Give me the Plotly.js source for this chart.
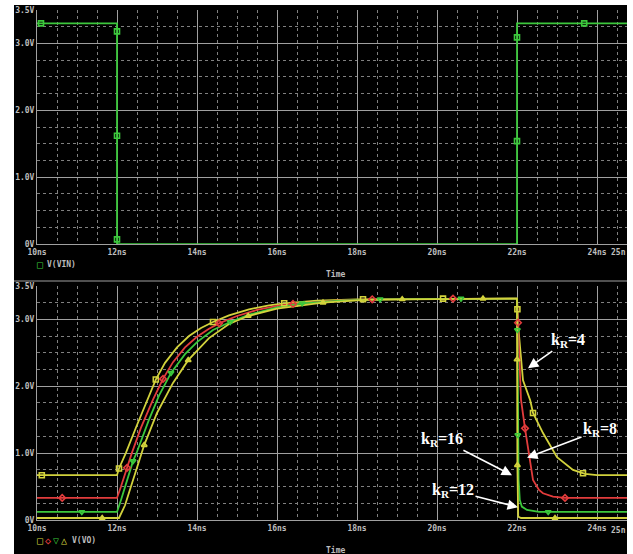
<!DOCTYPE html>
<html>
<head>
<meta charset="utf-8">
<script src="https://cdn.plot.ly/plotly-3.0.1.min.js"></script>
<style>
  html, body { margin: 0; padding: 0; background: #ffffff; }
  #chart { width: 633px; height: 554px; }
</style>
</head>
<body>
<div id="chart"></div>
<script>
// ---- Input pulse V(VIN) ----
const timeVin = [10, 12, 12, 22, 22, 24.75];
const valVin  = [3.3, 3.3, 0, 0, 3.3, 3.3];
const markTimeVin = [10.1, 12, 12, 12, 22, 22, 23.68];
const markValVin  = [3.3, 3.18, 1.62, 0.07, 3.09, 1.54, 3.3];

// ---- Output V(VO) for four kR values ----
const timeK4 = [10, 12.0, 12.05, 12.22, 12.5, 12.75, 12.97, 13.2, 13.5, 13.8, 14.1, 14.4, 14.8, 15.3, 15.8, 16.18, 17.0, 18.0, 20.0, 22.0,
                22.03, 22.1, 22.15, 22.33, 22.4, 22.65, 23.0, 23.4, 23.7, 24.0, 24.75];
const valK4  = [0.67, 0.67, 0.77, 1.0, 1.42, 1.78, 2.1, 2.35, 2.58, 2.75, 2.87, 2.96, 3.06, 3.15, 3.21, 3.24, 3.28, 3.3, 3.31, 3.31,
                2.9, 2.35, 2.09, 1.79, 1.6, 1.3, 0.94, 0.75, 0.69, 0.67, 0.67];
const markTimeK4 = [10.12, 12.05, 12.97, 14.4, 16.18, 18.15, 20.15, 22.01, 22.4, 23.65];
const markValK4  = [0.67, 0.77, 2.1, 2.96, 3.24, 3.3, 3.31, 3.15, 1.6, 0.70];

const timeK8 = [10, 12.0, 12.1, 12.25, 12.37, 12.6, 12.9, 13.15, 13.4, 13.7, 14.0, 14.3, 14.55, 15.0, 15.5, 16.0, 16.4, 17.5, 18.4, 22.0,
                22.03, 22.1, 22.2, 22.28, 22.4, 22.55, 22.65, 22.9, 23.2, 24.75];
const valK8  = [0.33, 0.33, 0.5, 0.78, 1.0, 1.38, 1.8, 2.11, 2.36, 2.58, 2.74, 2.86, 2.94, 3.05, 3.14, 3.2, 3.23, 3.28, 3.3, 3.31,
                2.9, 1.8, 1.37, 1.04, 0.6, 0.45, 0.4, 0.35, 0.33, 0.33];
const markTimeK8 = [10.63, 12.25, 13.15, 14.55, 16.4, 18.38, 20.4, 22.025, 22.2, 23.2];
const markValK8  = [0.33, 0.78, 2.11, 2.94, 3.23, 3.3, 3.31, 2.95, 1.37, 0.33];

const timeK12 = [10, 12.0, 12.1, 12.25, 12.4, 12.5, 12.8, 13.05, 13.35, 13.7, 14.0, 14.4, 14.83, 15.3, 16.0, 16.63, 17.6, 18.6, 22.0,
                 22.01, 22.02, 22.04, 22.07, 22.12, 22.25, 22.55, 24.75];
const valK12  = [0.12, 0.12, 0.3, 0.58, 0.88, 1.02, 1.5, 1.86, 2.2, 2.48, 2.66, 2.84, 2.96, 3.07, 3.18, 3.24, 3.28, 3.3, 3.31,
                 2.84, 1.27, 0.6, 0.3, 0.2, 0.15, 0.12, 0.12];
const markTimeK12 = [11.12, 12.4, 13.35, 14.83, 16.63, 18.58, 20.6, 22.01, 22.02, 22.78];
const markValK12  = [0.12, 0.88, 2.2, 2.96, 3.24, 3.3, 3.31, 2.84, 1.27, 0.12];

const timeK16 = [10, 12.05, 12.2, 12.4, 12.6, 12.68, 13.0, 13.4, 13.78, 14.3, 14.8, 15.28, 16.0, 17.15, 18.2, 19.13, 22.0,
                 22.0, 22.01, 22.03, 22.1, 24.75];
const valK16  = [0.03, 0.03, 0.22, 0.6, 0.98, 1.12, 1.6, 2.05, 2.39, 2.72, 2.93, 3.05, 3.16, 3.25, 3.29, 3.3, 3.31,
                 2.4, 0.82, 0.05, 0.03, 0.03];
const markTimeK16 = [11.63, 12.68, 13.78, 15.28, 17.15, 19.13, 21.15, 22.0, 22.01, 22.95];
const markValK16  = [0.03, 1.12, 2.39, 3.05, 3.25, 3.3, 3.31, 2.4, 0.82, 0.03];

// ---- Axis ticks ----
const voltTicks  = [0, 1, 2, 3, 3.5];
const voltLabels = ['0V', '1.0V', '2.0V', '3.0V', '3.5V'];
const timeTicks  = [10, 12, 14, 16, 18, 20, 22, 24];
const timeLabels = ['10ns', '12ns', '14ns', '16ns', '18ns', '20ns', '22ns', '24ns'];

// ---- Colours ----
const GREEN = '#3cc83c', YELLOW = '#d2d23c', RED = '#e23c3c';
const LABEL = '#bdbdbd', GRID = '#a0a0a0', MINOR = '#808080';
const monoFont = {family: 'DejaVu Sans Mono', size: 8, color: LABEL, weight: 'bold'};

function line(x, y, color, xa, ya) {
  return {x: x, y: y, xaxis: xa, yaxis: ya, mode: 'lines', type: 'scatter',
          line: {color: color, width: 1.8}, hoverinfo: 'skip'};
}
function marks(x, y, color, symbol, xa, ya) {
  return {x: x, y: y, xaxis: xa, yaxis: ya, mode: 'markers', type: 'scatter',
          marker: {symbol: symbol, size: 5, color: color, line: {color: color, width: 1.6}},
          hoverinfo: 'skip', cliponaxis: false};
}

const traces = [
  line(timeVin, valVin, GREEN, 'x', 'y'),
  marks(markTimeVin, markValVin, GREEN, 'square-open', 'x', 'y'),
  line(timeK4, valK4, YELLOW, 'x2', 'y2'),
  line(timeK8, valK8, RED, 'x2', 'y2'),
  line(timeK12, valK12, GREEN, 'x2', 'y2'),
  line(timeK16, valK16, YELLOW, 'x2', 'y2'),
  marks(markTimeK4, markValK4, YELLOW, 'square-open', 'x2', 'y2'),
  marks(markTimeK8, markValK8, RED, 'diamond-open', 'x2', 'y2'),
  marks(markTimeK12, markValK12, GREEN, 'triangle-down-open', 'x2', 'y2'),
  marks(markTimeK16, markValK16, YELLOW, 'triangle-up-open', 'x2', 'y2')
];

function xAxis(anchor) {
  return {
    anchor: anchor, domain: [0, 1], range: [10, 24.75], fixedrange: true,
    tickmode: 'array', tickvals: timeTicks, ticktext: timeLabels, ticks: '',
    tickfont: monoFont, showgrid: true, gridcolor: GRID, gridwidth: 1,
    zeroline: false, showline: true, linecolor: GRID, linewidth: 1,
    minor: {dtick: 0.5, tick0: 10, showgrid: true, gridcolor: MINOR, griddash: 'dot', gridwidth: 1}
  };
}
function yAxis(anchor, domain) {
  return {
    anchor: anchor, domain: domain, range: [0, 3.5], fixedrange: true,
    tickmode: 'array', tickvals: voltTicks, ticktext: voltLabels, ticks: '',
    tickfont: monoFont, showgrid: true, gridcolor: GRID, gridwidth: 1,
    zeroline: false, showline: true, linecolor: GRID, linewidth: 1,
    minor: {dtick: 0.25, tick0: 0, showgrid: true, gridcolor: MINOR, griddash: 'dot', gridwidth: 1}
  };
}

// pixel -> paper helpers (plot area spans x 37..627, y 10..520)
const px = v => (v - 37) / 590;
const py = v => (520 - v) / 510;

function txt(text, x, y, color, anchor, size) {
  return {text: text, xref: 'paper', yref: 'paper', x: px(x), y: py(y),
          xanchor: anchor || 'left', yanchor: 'middle', showarrow: false,
          font: {family: 'DejaVu Sans Mono', size: size || 8, color: color, weight: 'bold'}};
}
const serif = {family: 'Liberation Serif', size: 16, color: '#ffffff', weight: 'bold'};
function kLabel(text, t, v, ax, ay) {
  return {text: text, xref: 'x2', yref: 'y2', x: t, y: v, ax: ax, ay: ay,
          showarrow: true, arrowhead: 2, arrowsize: 1.3, arrowwidth: 1.6,
          arrowcolor: '#ffffff', font: serif, standoff: 0};
}

const annotations = [
  txt('Time', 335, 274, LABEL, 'center'),
  txt('Time', 335, 550, LABEL, 'center'),
  txt('25n', 628, 252, LABEL, 'right'),
  txt('25n', 628, 530, LABEL, 'right'),
  txt('\u25A1', 35, 264, GREEN, 'left', 10),
  txt('V(VIN)', 45, 264, LABEL),
  txt('\u25A1', 35, 540, YELLOW, 'left', 10),
  txt('\u25C7', 43, 540, RED, 'left', 10),
  txt('\u25BD', 51, 540, GREEN, 'left', 10),
  txt('\u25B3', 59, 540, YELLOW, 'left', 10),
  txt('V(VO)', 70, 540, LABEL),
  kLabel('k<sub>R</sub>=4', 22.275, 2.27, 40, -28),
  kLabel('k<sub>R</sub>=8', 22.25, 0.93, 73, -28),
  kLabel('k<sub>R</sub>=16', 21.875, 0.67, -70, -36),
  kLabel('k<sub>R</sub>=12', 22.025, 0.19, -65, -17)
];

const white = {type: 'rect', xref: 'paper', yref: 'paper', layer: 'above',
               fillcolor: '#ffffff', line: {width: 0}};
const shapes = [
  Object.assign({}, white, {x0: px(0), x1: px(14), y0: py(554), y1: py(0)}),
  Object.assign({}, white, {x0: px(0), x1: px(633), y0: py(5), y1: py(0)}),
  Object.assign({}, white, {x0: px(627), x1: px(633), y0: py(554), y1: py(0)}),
  {type: 'line', xref: 'paper', yref: 'paper', layer: 'below',
   x0: px(14), x1: px(627), y0: py(281), y1: py(281), line: {color: GRID, width: 1}}
];

const layout = {
  width: 633, height: 554,
  margin: {l: 37, r: 6, t: 10, b: 34, pad: 0},
  paper_bgcolor: '#000000', plot_bgcolor: '#000000',
  showlegend: false,
  xaxis: xAxis('y'),
  yaxis: yAxis('x', [0.541, 1]),
  xaxis2: xAxis('y2'),
  yaxis2: yAxis('x2', [0, 0.459]),
  annotations: annotations,
  shapes: shapes
};

Plotly.newPlot('chart', traces, layout, {displayModeBar: false, staticPlot: true});
</script>
</body>
</html>
